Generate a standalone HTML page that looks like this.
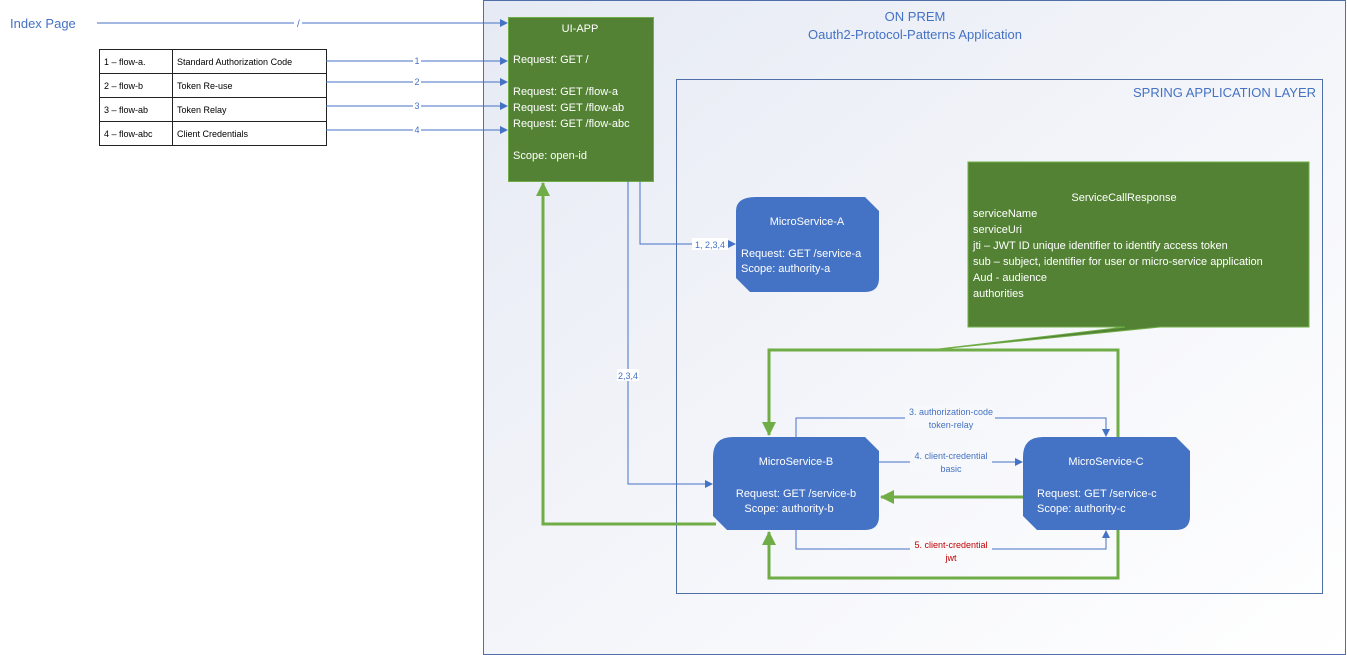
<!DOCTYPE html>
<html><head><meta charset="utf-8"><style>
html,body{margin:0;padding:0;background:#fff;}
svg{display:block;font-family:"Liberation Sans",sans-serif;}
</style></head><body>
<svg width="1347" height="655" viewBox="0 0 1347 655" xmlns="http://www.w3.org/2000/svg">
<defs>
<linearGradient id="bg" x1="0" y1="0" x2="1" y2="1">
<stop offset="0" stop-color="#e6eaf4"/><stop offset="0.6" stop-color="#f6f7fb"/><stop offset="1" stop-color="#ffffff"/>
</linearGradient>
<marker id="ab" markerWidth="8" markerHeight="8" refX="7" refY="4" orient="auto" markerUnits="userSpaceOnUse"><path d="M0,0 L8,4 L0,8 z" fill="#4472c4"/></marker>
<marker id="ag" markerWidth="14" markerHeight="14" refX="13" refY="7" orient="auto" markerUnits="userSpaceOnUse"><path d="M0,0 L14,7 L0,14 z" fill="#70ad47"/></marker>
</defs>
<rect x="483.5" y="0.5" width="862" height="654" fill="url(#bg)" stroke="#4f6fa8" stroke-width="1"/>
<text x="915" y="21" font-size="13" fill="#4472c4" text-anchor="middle">ON PREM</text>
<text x="915" y="39" font-size="13" fill="#4472c4" text-anchor="middle">Oauth2-Protocol-Patterns Application</text>
<rect x="676.5" y="79.5" width="646" height="514" fill="none" stroke="#4f6fa8" stroke-width="1"/>
<text x="1316" y="97" font-size="13" fill="#4472c4" text-anchor="end">SPRING APPLICATION LAYER</text>

<text x="10" y="28" font-size="13" fill="#4472c4">Index Page</text>
<line x1="97" y1="23" x2="507" y2="23" stroke="#4472c4" stroke-width="1" marker-end="url(#ab)"/>
<rect x="294" y="16" width="8" height="12" fill="#fff"/>
<text x="297" y="27" font-size="10" fill="#4472c4">/</text>

<g stroke="#222" stroke-width="1" fill="#fff">
<rect x="99.5" y="49.5" width="227" height="96"/>
<line x1="99" y1="73.5" x2="327" y2="73.5"/><line x1="99" y1="97.5" x2="327" y2="97.5"/><line x1="99" y1="121.5" x2="327" y2="121.5"/>
<line x1="172.5" y1="49" x2="172.5" y2="146"/>
</g>
<g font-size="9" fill="#000">
<text x="104" y="65">1 – flow-a.</text><text x="177" y="65">Standard Authorization Code</text>
<text x="104" y="89">2 – flow-b</text><text x="177" y="89">Token Re-use</text>
<text x="104" y="113">3 – flow-ab</text><text x="177" y="113">Token Relay</text>
<text x="104" y="137">4 – flow-abc</text><text x="177" y="137">Client Credentials</text>
</g>
<g stroke="#4472c4" stroke-width="1" marker-end="url(#ab)">
<line x1="326" y1="61" x2="507" y2="61"/><line x1="326" y1="82" x2="507" y2="82"/>
<line x1="326" y1="106" x2="507" y2="106"/><line x1="326" y1="130" x2="507" y2="130"/>
</g>
<g fill="#fff"><rect x="413" y="56" width="8" height="10"/><rect x="413" y="77" width="8" height="10"/><rect x="413" y="101" width="8" height="10"/><rect x="413" y="125" width="8" height="10"/></g>
<g font-size="9" fill="#4472c4" text-anchor="middle">
<text x="417" y="64">1</text><text x="417" y="85">2</text><text x="417" y="109">3</text><text x="417" y="133">4</text>
</g>

<rect x="508.5" y="17.5" width="145" height="164" fill="#548235" stroke="#70ad47"/>
<g font-size="11" fill="#fff">
<text x="580" y="32" text-anchor="middle">UI-APP</text>
<text x="513" y="63">Request: GET /</text>
<text x="513" y="95">Request: GET /flow-a</text>
<text x="513" y="111">Request: GET /flow-ab</text>
<text x="513" y="127">Request: GET /flow-abc</text>
<text x="513" y="159">Scope: open-id</text>
</g>

<polyline points="640,181 640,244 735,244" fill="none" stroke="#4472c4" marker-end="url(#ab)"/>
<rect x="692" y="238" width="36" height="12" fill="#fff"/>
<text x="710" y="248" font-size="9" fill="#4472c4" text-anchor="middle">1, 2,3,4</text>
<polyline points="628,181 628,484 712,484" fill="none" stroke="#4472c4" marker-end="url(#ab)"/>
<rect x="617" y="369" width="22" height="12" fill="#fff"/>
<text x="628" y="379" font-size="9" fill="#4472c4" text-anchor="middle">2,3,4</text>

<polyline points="716,524 543,524 543,183" fill="none" stroke="#70ad47" stroke-width="3" marker-end="url(#ag)"/>

<path d="M756,197 L865,197 L879,211 L879,278 Q879,292 865,292 L750,292 L736,278 L736,211 Q736,197 756,197 Z" fill="#4472c4"/>
<g font-size="11" fill="#fff">
<text x="807" y="225" text-anchor="middle">MicroService-A</text>
<text x="741" y="257">Request: GET /service-a</text>
<text x="741" y="272">Scope: authority-a</text>
</g>

<path d="M968,162 L1309,162 L1309,327 L1160,327 L930,350 L1125,327 L968,327 Z" fill="#548235" stroke="#70ad47"/>
<g font-size="11" fill="#fff">
<text x="1124" y="201" text-anchor="middle">ServiceCallResponse</text>
<text x="973" y="217">serviceName</text>
<text x="973" y="233">serviceUri</text>
<text x="973" y="249">jti – JWT ID unique identifier to identify access token</text>
<text x="973" y="265">sub – subject, identifier for user or micro-service application</text>
<text x="973" y="281">Aud - audience</text>
<text x="973" y="297">authorities</text>
</g>

<polyline points="1118,437 1118,350 769,350 769,435" fill="none" stroke="#70ad47" stroke-width="3" marker-end="url(#ag)"/>
<polyline points="1118,530 1118,578 769,578 769,532" fill="none" stroke="#70ad47" stroke-width="3" marker-end="url(#ag)"/>
<line x1="1023" y1="497" x2="881" y2="497" stroke="#70ad47" stroke-width="3" marker-end="url(#ag)"/>

<polyline points="796,437 796,418 1106,418 1106,436" fill="none" stroke="#4472c4" marker-end="url(#ab)"/>
<rect x="905" y="405" width="90" height="24" fill="#f7f8fb"/>
<g font-size="9" fill="#4472c4" text-anchor="middle">
<text x="951" y="415">3. authorization-code</text><text x="951" y="428">token-relay</text>
</g>
<line x1="879" y1="462" x2="1022" y2="462" stroke="#4472c4" marker-end="url(#ab)"/>
<rect x="910" y="450" width="82" height="24" fill="#f7f8fb"/>
<g font-size="9" fill="#4472c4" text-anchor="middle">
<text x="951" y="459">4. client-credential</text><text x="951" y="472">basic</text>
</g>
<polyline points="796,530 796,549 1106,549 1106,531" fill="none" stroke="#4472c4" marker-end="url(#ab)"/>
<rect x="910" y="537" width="82" height="24" fill="#f9fafc"/>
<g font-size="9" fill="#c00000" text-anchor="middle">
<text x="951" y="548">5. client-credential</text><text x="951" y="561">jwt</text>
</g>

<path d="M733,437 L865,437 L879,451 L879,516 Q879,530 865,530 L727,530 L713,516 L713,457 Q713,437 733,437 Z" fill="#4472c4"/>
<g font-size="11" fill="#fff" text-anchor="middle">
<text x="796" y="465">MicroService-B</text>
<text x="796" y="497">Request: GET /service-b</text>
<text x="789" y="512">Scope: authority-b</text>
</g>

<path d="M1043,437 L1176,437 L1190,451 L1190,516 Q1190,530 1176,530 L1037,530 L1023,516 L1023,457 Q1023,437 1043,437 Z" fill="#4472c4"/>
<g font-size="11" fill="#fff">
<text x="1106" y="465" text-anchor="middle">MicroService-C</text>
<text x="1037" y="497">Request: GET /service-c</text>
<text x="1037" y="512">Scope: authority-c</text>
</g>
</svg>
</body></html>
